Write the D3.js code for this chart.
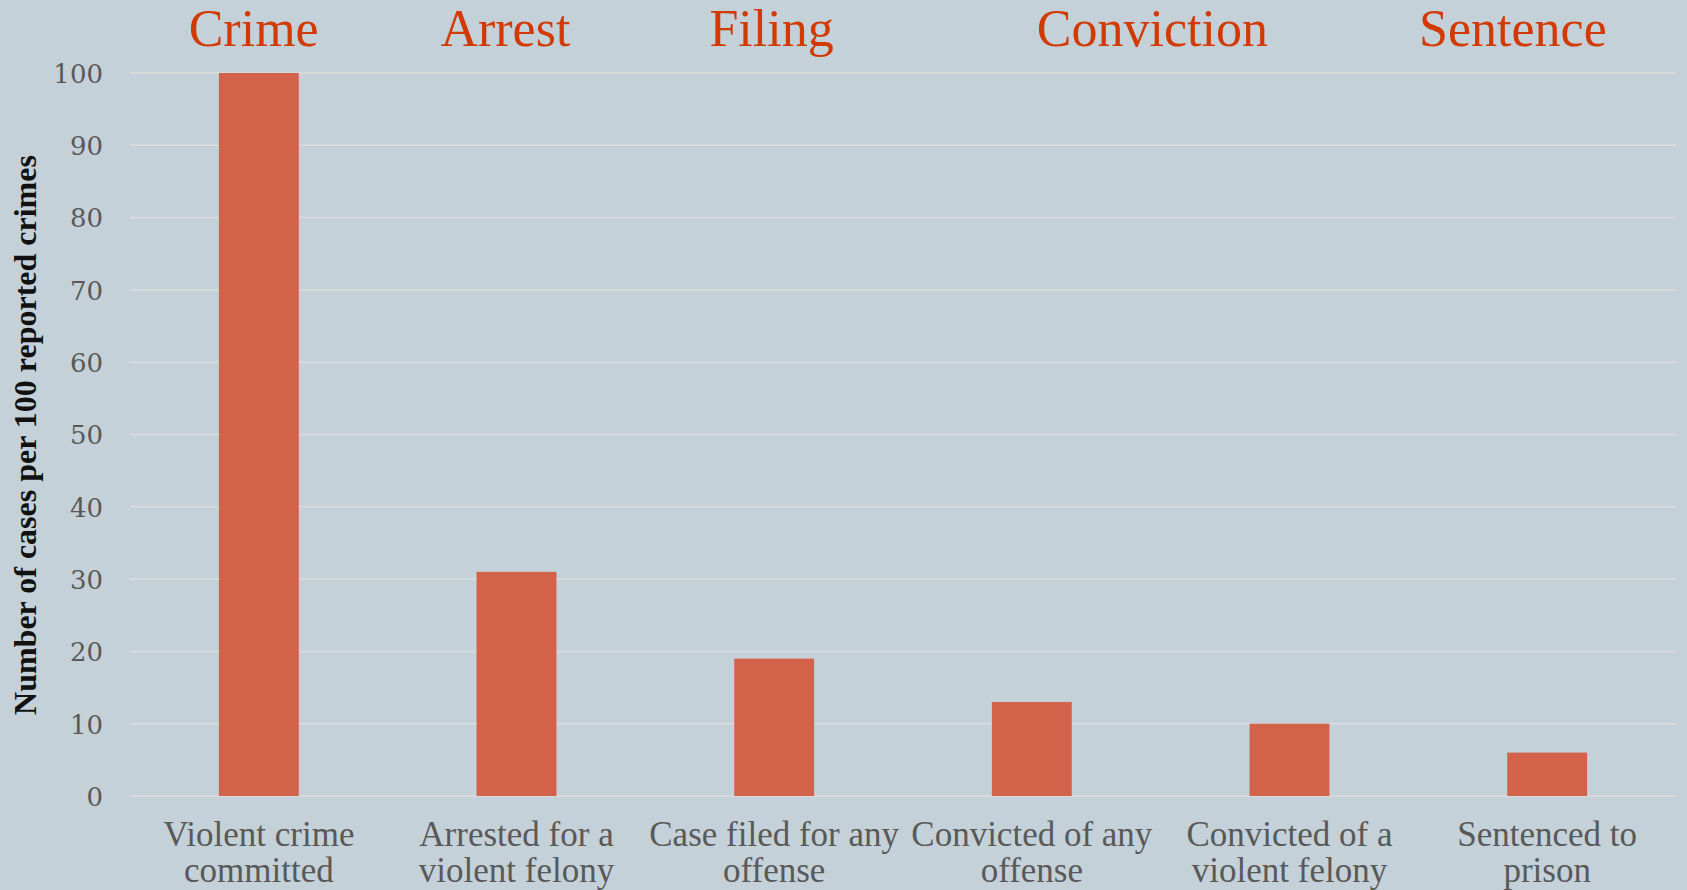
<!DOCTYPE html>
<html>
<head>
<meta charset="utf-8">
<script src="https://cdn.jsdelivr.net/npm/d3@7"></script>
<style>
  html, body { margin: 0; padding: 0; background: #c5d1d8; }
  svg { display: block; }
</style>
</head>
<body>
<div id="chart"></div>
<script>
// ---- data ----
const categories = [
  ["Violent crime", "committed"],
  ["Arrested for a", "violent felony"],
  ["Case filed for any", "offense"],
  ["Convicted of any", "offense"],
  ["Convicted of a", "violent felony"],
  ["Sentenced to", "prison"]
];
const values = [100, 31, 19, 13, 10, 6];
const stageNames = ["Crime", "Arrest", "Filing", "Conviction", "Sentence"];
const stageSlot = [-0.02, 0.957, 1.99, 3.468, 4.867]; // position in category-slot units
const yTicks = [0, 10, 20, 30, 40, 50, 60, 70, 80, 90, 100];
const yTitle = "Number of cases per 100 reported crimes";

// ---- layout ----
const W = 1687, H = 890;
const mLeft = 130, mRight = 1676, mTop = 73, mBottom = 796;

const svg = d3.select("#chart").append("svg")
  .attr("width", W).attr("height", H);

svg.append("rect").attr("width", W).attr("height", H).attr("fill", "#c5d1d8");

const x = d3.scaleBand()
  .domain(d3.range(categories.length))
  .range([mLeft, mRight])
  .paddingInner(0.69)
  .paddingOuter(0.345);

const y = d3.scaleLinear().domain([0, 100]).range([mBottom, mTop]);

// gridlines
svg.append("g").selectAll("line").data(yTicks).join("line")
  .attr("x1", mLeft).attr("x2", mRight)
  .attr("y1", d => y(d)).attr("y2", d => y(d))
  .attr("stroke", "#dcdcdc").attr("stroke-width", 1.5);

// y axis labels
const yAxis = d3.axisLeft(y).tickValues(yTicks).tickSize(0).tickPadding(27);
const gy = svg.append("g").attr("transform", `translate(${mLeft},0)`).call(yAxis);
gy.select(".domain").remove();
gy.selectAll("text")
  .attr("font-family", "'DejaVu Serif', serif")
  .attr("font-size", 26)
  .attr("fill", "#595959")
  .attr("dy", "0.36em");

// bars
svg.append("g").selectAll("rect").data(values).join("rect")
  .attr("x", (d, i) => x(i))
  .attr("width", x.bandwidth())
  .attr("y", d => y(d))
  .attr("height", d => y(0) - y(d))
  .attr("fill", "#d2634a");

// category labels
const xAxis = d3.axisBottom(x).tickSize(0).tickFormat(() => "");
const gx = svg.append("g").attr("transform", `translate(0,${mBottom})`).call(xAxis);
gx.select(".domain").remove();
gx.selectAll(".tick").each(function(i) {
  const t = d3.select(this).append("text")
    .attr("font-family", "'Liberation Serif', serif")
    .attr("font-size", 35)
    .attr("fill", "#595959")
    .attr("text-anchor", "middle");
  categories[i].forEach((line, k) => {
    t.append("tspan").attr("x", 0).attr("y", 50 + k * 36).text(line);
  });
});

// stage headings
const slotX = d3.scaleLinear().domain([0, 1]).range([x(0) + x.bandwidth() / 2, x(1) + x.bandwidth() / 2]);
svg.append("g").selectAll("text").data(stageNames).join("text")
  .attr("x", (d, i) => slotX(stageSlot[i]))
  .attr("y", 46)
  .attr("text-anchor", "middle")
  .attr("font-family", "'Liberation Serif', serif")
  .attr("font-size", 52)
  .attr("fill", "#d13a04")
  .text(d => d);

// y title
svg.append("text")
  .attr("transform", `translate(36,${(154 + 716) / 2}) rotate(-90)`)
  .attr("text-anchor", "middle")
  .attr("font-family", "'Liberation Serif', serif")
  .attr("font-weight", "bold")
  .attr("font-size", 32)
  .attr("fill", "#111")
  .text(yTitle);
</script>
</body>
</html>
